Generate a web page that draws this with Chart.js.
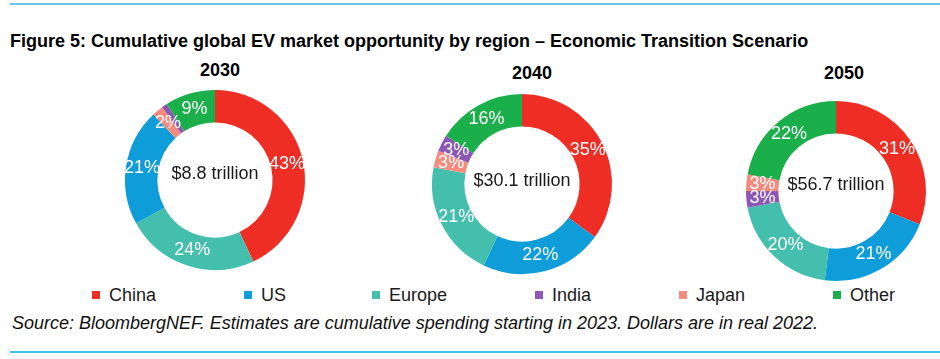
<!DOCTYPE html>
<html>
<head>
<meta charset="utf-8">
<script src="https://cdn.jsdelivr.net/npm/chart.js@4"></script>
<style>
  html, body { margin:0; padding:0; background:#fff; }
  body { width:940px; height:359px; position:relative; overflow:hidden; font-family:"Liberation Sans", Arial, sans-serif; color:#111; }
  .rule { position:absolute; left:10px; right:0; height:2px; }
  #topRule { top:3px; background:#66C8EE; }
  #botRule { top:351px; background:#38C6F0; }
  #title { position:absolute; left:10px; top:30px; font-size:18px; font-weight:bold; white-space:nowrap; line-height:22px; color:#000; }
  #source { position:absolute; left:12px; top:312px; font-size:18px; font-style:italic; white-space:nowrap; line-height:22px; color:#111; }
  .year { position:absolute; width:120px; margin-left:-60px; text-align:center; font-size:18px; font-weight:bold; line-height:22px; color:#000; }
  .cv { position:absolute; }
  .leg { position:absolute; top:284px; height:22px; font-size:18px; line-height:22px; white-space:nowrap; color:#1a1a1a; }
  .leg i { position:absolute; left:0; top:7px; width:8px; height:8px; }
  .leg span { position:absolute; left:17px; top:0; }
</style>
</head>
<body>
<div id="topRule" class="rule"></div>
<div id="title"></div>
<div id="source"></div>
<div id="botRule" class="rule"></div>

<script>
// ---------- data ----------
const titleText = 'Figure 5: Cumulative global EV market opportunity by region \u2013 Economic Transition Scenario';
const sourceText = 'Source: BloombergNEF. Estimates are cumulative spending starting in 2023. Dollars are in real 2022.';
const regions = ['China', 'US', 'Europe', 'India', 'Japan', 'Other'];
const years = ['2030', '2040', '2050'];
const totals = ['$8.8 trillion', '$30.1 trillion', '$56.7 trillion'];

const order2030 = ['China', 'Europe', 'US', 'Japan', 'India', 'Other'];
const share2030 = [43, 24, 21, 2, 1, 9];
const order2040 = ['China', 'US', 'Europe', 'Japan', 'India', 'Other'];
const share2040 = [35, 22, 21, 3, 3, 16];
const order2050 = ['China', 'US', 'Europe', 'India', 'Japan', 'Other'];
const share2050 = [31, 21, 20, 3, 3, 22];

// ---------- style ----------
const regionColors = {
  China: '#EE2E24', US: '#0E9DD9', Europe: '#44BFAE',
  India: '#8B58B5', Japan: '#F58A7E', Other: '#1BAF4B'
};
const chartLayout = [ // donut centre and year-label position
  { cx: 215, cy: 180, yearX: 220, yearY: 59, textDy: -6 },
  { cx: 522, cy: 184, yearX: 532, yearY: 62, textDy: -3 },
  { cx: 836, cy: 191, yearX: 844, yearY: 62, textDy: -6 }
];
const legendX = [92, 244, 372, 535, 679, 833];
const R = 90, PAD = 20;

document.getElementById('title').textContent = titleText;
document.getElementById('source').textContent = sourceText;

// legend
regions.forEach((r, i) => {
  const d = document.createElement('div');
  d.className = 'leg';
  d.style.left = legendX[i] + 'px';
  const sq = document.createElement('i');
  sq.style.background = regionColors[r];
  const t = document.createElement('span');
  t.textContent = r;
  d.appendChild(sq); d.appendChild(t);
  document.body.appendChild(d);
});

const sliceLabels = {
  id: 'sliceLabels',
  afterDatasetsDraw(chart, args, opts) {
    const ctx = chart.ctx;
    const meta = chart.getDatasetMeta(0);
    const data = chart.data.datasets[0].data;
    ctx.save();
    ctx.font = '18px "Liberation Sans", Arial, sans-serif';
    ctx.textAlign = 'center';
    ctx.textBaseline = 'middle';
    ctx.fillStyle = '#ffffff';
    meta.data.forEach((arc, i) => {
      if (data[i] < 2) return;
      const p = arc.tooltipPosition();
      ctx.fillText(data[i] + '%', p.x, p.y);
    });
    const c = meta.data[0];
    ctx.fillStyle = '#1a1a1a';
    ctx.fillText(opts.text, c.x, c.y + opts.dy);
    ctx.restore();
  }
};

const orders = [order2030, order2040, order2050];
const shares = [share2030, share2040, share2050];

years.forEach((yr, k) => {
  const L = chartLayout[k];
  const y = document.createElement('div');
  y.className = 'year';
  y.style.left = L.yearX + 'px';
  y.style.top = L.yearY + 'px';
  y.textContent = yr;
  document.body.appendChild(y);

  const cv = document.createElement('canvas');
  const size = 2 * (R + PAD);
  cv.width = size; cv.height = size;
  cv.className = 'cv';
  cv.style.left = (L.cx - R - PAD) + 'px';
  cv.style.top = (L.cy - R - PAD) + 'px';
  cv.style.width = size + 'px'; cv.style.height = size + 'px';
  document.body.appendChild(cv);

  new Chart(cv, {
    type: 'doughnut',
    data: {
      labels: orders[k],
      datasets: [{
        data: shares[k],
        backgroundColor: orders[k].map(r => regionColors[r]),
        borderWidth: 0
      }]
    },
    options: {
      responsive: false,
      animation: false,
      devicePixelRatio: 1,
      events: [],
      cutout: '64%',
      layout: { padding: PAD },
      plugins: {
        legend: { display: false },
        tooltip: { enabled: false },
        title: { display: false },
        sliceLabels: { text: totals[k], dy: L.textDy }
      }
    },
    plugins: [sliceLabels]
  });
});
</script>
</body>
</html>
